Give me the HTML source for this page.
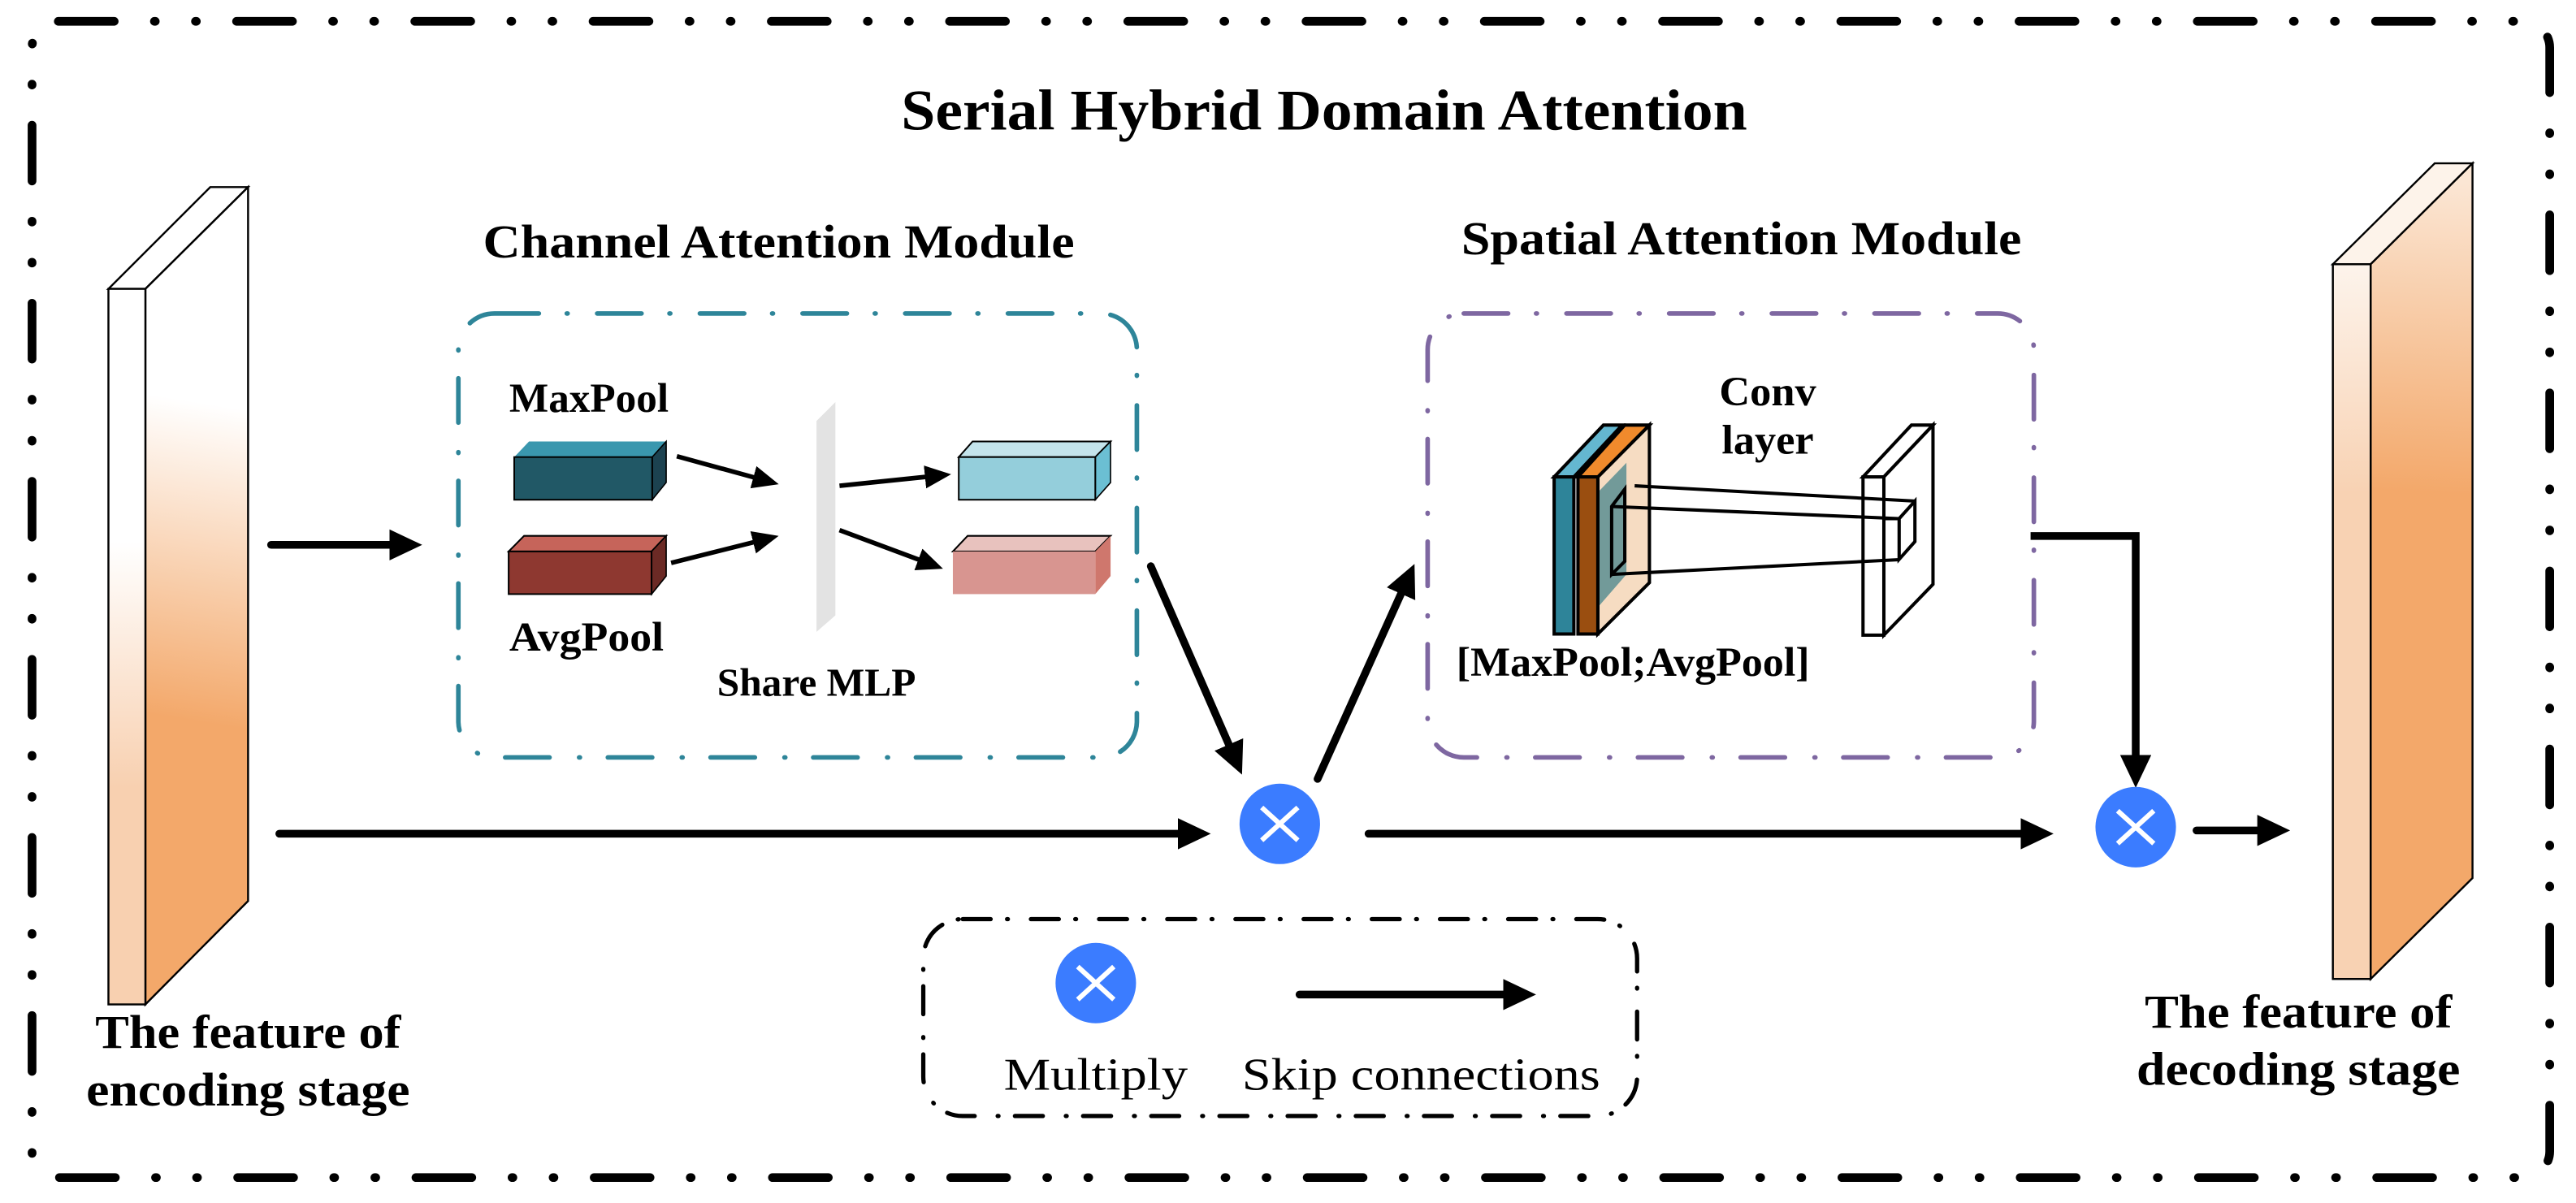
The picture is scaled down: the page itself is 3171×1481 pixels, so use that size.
<!DOCTYPE html>
<html><head><meta charset="utf-8"><style>
html,body{margin:0;padding:0;background:#fff;}
svg{display:block;}
text{font-family:"Liberation Serif",serif;}
</style></head><body>
<svg width="3171" height="1481" viewBox="0 0 1568 733" preserveAspectRatio="none" xmlns="http://www.w3.org/2000/svg">
<defs>
<marker id="ah" markerUnits="userSpaceOnUse" markerWidth="21" markerHeight="20" refX="10" refY="9.5" orient="auto"><path d="M0,0 L20,9.5 L0,19 z" fill="#000"/></marker>
<marker id="as" markerUnits="userSpaceOnUse" markerWidth="17" markerHeight="16" refX="8" refY="7" orient="auto"><path d="M0,0 L16,7 L0,14 z" fill="#000"/></marker>
<linearGradient id="lfront" gradientUnits="userSpaceOnUse" x1="0" y1="330" x2="0" y2="480"><stop offset="0" stop-color="#fff"/><stop offset="1" stop-color="#f8d0b0"/></linearGradient>
<linearGradient id="lside" gradientUnits="userSpaceOnUse" x1="151" y1="250" x2="120" y2="440"><stop offset="0" stop-color="#fff"/><stop offset="1" stop-color="#f3a86a"/></linearGradient>
<linearGradient id="rfront" gradientUnits="userSpaceOnUse" x1="0" y1="160" x2="0" y2="300"><stop offset="0" stop-color="#fdf4ec"/><stop offset="1" stop-color="#f8d2b3"/></linearGradient>
<linearGradient id="rside" gradientUnits="userSpaceOnUse" x1="1480" y1="110" x2="1470" y2="300"><stop offset="0" stop-color="#fbe6d4"/><stop offset="1" stop-color="#f3a86a"/></linearGradient>
</defs>

<rect x="19.5" y="13" width="1532.5" height="704.5" rx="16" ry="16" fill="none" stroke="#000" stroke-width="5.3" stroke-linecap="round" stroke-dasharray="34 24.5 0.5 24.5 0.5 24.5"/>

<text x="806" y="79" font-size="35" font-weight="bold" text-anchor="middle" textLength="515" lengthAdjust="spacingAndGlyphs">Serial  Hybrid Domain Attention</text>
<text x="474" y="157" font-size="29" font-weight="bold" text-anchor="middle" textLength="360" lengthAdjust="spacingAndGlyphs">Channel Attention Module</text>
<text x="1060" y="155" font-size="29" font-weight="bold" text-anchor="middle" textLength="341" lengthAdjust="spacingAndGlyphs">Spatial Attention Module</text>

<polygon points="66,176 88.5,176 151,114 128,114" fill="#fff" stroke="#000" stroke-width="1.2"/>
<polygon points="88.5,176 151,114 151,549 88.5,612" fill="url(#lside)" stroke="#000" stroke-width="1.2"/>
<rect x="66" y="176" width="22.5" height="436" fill="url(#lfront)" stroke="#000" stroke-width="1.2"/>
<text x="151" y="638.5" font-size="29" font-weight="bold" text-anchor="middle" textLength="186" lengthAdjust="spacingAndGlyphs">The feature of</text>
<text x="151" y="673.5" font-size="29" font-weight="bold" text-anchor="middle" textLength="197" lengthAdjust="spacingAndGlyphs">encoding stage</text>

<polygon points="1420,161 1443,161 1505,99.5 1482,99.5" fill="#fdf3ea" stroke="#000" stroke-width="1.2"/>
<polygon points="1443,161 1505,99.5 1505,535 1443,596.5" fill="url(#rside)" stroke="#000" stroke-width="1.2"/>
<rect x="1420" y="161" width="23" height="435.5" fill="url(#rfront)" stroke="#000" stroke-width="1.2"/>
<text x="1399" y="626" font-size="29" font-weight="bold" text-anchor="middle" textLength="187" lengthAdjust="spacingAndGlyphs">The feature of</text>
<text x="1399" y="661" font-size="29" font-weight="bold" text-anchor="middle" textLength="197" lengthAdjust="spacingAndGlyphs">decoding stage</text>

<rect x="279" y="191" width="413" height="270.5" rx="22" ry="22" fill="none" stroke="#2e8599" stroke-width="2.8" stroke-linecap="round" stroke-dasharray="27 17 0.5 18"/>
<text x="310" y="251" font-size="25" font-weight="bold" textLength="97" lengthAdjust="spacingAndGlyphs">MaxPool</text>
<text x="310" y="396.5" font-size="25" font-weight="bold" textLength="94" lengthAdjust="spacingAndGlyphs">AvgPool</text>
<text x="497" y="424" font-size="24" font-weight="bold" text-anchor="middle" textLength="121" lengthAdjust="spacingAndGlyphs">Share MLP</text>

<polygon points="313,278.5 397,278.5 405.5,269 322,269" fill="#3a97ae"/>
<polygon points="397,278.5 405.5,269 405.5,294 397,304.5" fill="#1c4250" stroke="#000" stroke-width="0.8"/>
<rect x="313" y="278.5" width="84" height="26" fill="#215866" stroke="#000" stroke-width="1"/>
<polygon points="309.6,336 396.6,336 405.5,326.5 319,326.5" fill="#c6645a" stroke="#000" stroke-width="1"/>
<polygon points="396.6,336 405.5,326.5 405.5,351 396.6,362" fill="#6b2a25" stroke="#000" stroke-width="0.8"/>
<rect x="309.6" y="336" width="87" height="26" fill="#8e3830" stroke="#000" stroke-width="1"/>
<polygon points="583.6,278.5 666.7,278.5 676,269 592,269" fill="#c4e4ec" stroke="#000" stroke-width="1"/>
<polygon points="666.7,278.5 676,269 676,294 666.7,304.5" fill="#6bbfd3" stroke="#000" stroke-width="0.8"/>
<rect x="583.6" y="278.5" width="83.1" height="26" fill="#94cedb" stroke="#000" stroke-width="1"/>
<polygon points="580,336 666.7,336 676,326.5 589,326.5" fill="#e8c2be" stroke="#000" stroke-width="1"/>
<polygon points="666.7,336 676,326.5 676,351 666.7,362" fill="#cf776d"/>
<rect x="580" y="336" width="86.7" height="26" fill="#d89590"/>
<polygon points="497,256.5 508.5,245 508.5,375 497,385" fill="#e3e3e3"/>
<line x1="412" y1="278" x2="466.3" y2="292.9" stroke="#000" stroke-width="2.8" marker-end="url(#as)"/>
<line x1="408.5" y1="343" x2="466.2" y2="328.5" stroke="#000" stroke-width="2.8" marker-end="url(#as)"/>
<line x1="511" y1="296" x2="571" y2="289.8" stroke="#000" stroke-width="2.8" marker-end="url(#as)"/>
<line x1="511" y1="323" x2="566.5" y2="343.7" stroke="#000" stroke-width="2.8" marker-end="url(#as)"/>

<rect x="869" y="191" width="369" height="270.5" rx="22" ry="22" fill="none" stroke="#7e67a1" stroke-width="2.8" stroke-linecap="round" stroke-dasharray="27 17 0.5 18"/>
<text x="1076" y="247" font-size="25" font-weight="bold" text-anchor="middle" textLength="59" lengthAdjust="spacingAndGlyphs">Conv</text>
<text x="1076" y="276.5" font-size="25" font-weight="bold" text-anchor="middle" textLength="56" lengthAdjust="spacingAndGlyphs">layer</text>
<text x="994" y="411.8" font-size="25" font-weight="bold" text-anchor="middle" textLength="215" lengthAdjust="spacingAndGlyphs">[MaxPool;AvgPool]</text>

<polygon points="972.6,290.6 1004,259 1004,355 972.6,386.3" fill="#f6dcc2" stroke="#000" stroke-width="2"/>
<polygon points="972.6,300 990,282 990,350 972.6,370" fill="#3a7d88" opacity="0.7"/>
<polygon points="960.5,290.6 972.6,290.6 1004,259 989,259" fill="#f08a2c" stroke="#000" stroke-width="2"/>
<rect x="960.5" y="290.6" width="12.1" height="95.7" fill="#9a4e10" stroke="#000" stroke-width="2"/>
<polygon points="946,290.6 958,290.6 987.4,259 976,259" fill="#64b7d0" stroke="#000" stroke-width="2"/>
<rect x="946" y="290.6" width="12" height="95.7" fill="#2e8499" stroke="#000" stroke-width="2"/>
<polygon points="1134,290.6 1146.7,290.6 1176.6,259 1163.5,259" fill="#fff" stroke="#000" stroke-width="2"/>
<polygon points="1146.7,290.6 1176.6,259 1176.6,356 1146.7,387" fill="#fff" stroke="#000" stroke-width="2"/>
<rect x="1134" y="290.6" width="12.7" height="96.4" fill="#fff" stroke="#000" stroke-width="2"/>
<g fill="none" stroke="#000" stroke-width="2">
<polygon points="981,308.6 989,298 989,342 981,350"/>
<line x1="995" y1="296" x2="1165.6" y2="305.3"/>
<line x1="981" y1="308.6" x2="1156" y2="316"/>
<line x1="981" y1="350" x2="1156" y2="341"/>
<polygon points="1156,316 1165.6,305.3 1165.6,330 1156,340.8"/>
<line x1="1146.7" y1="316" x2="1156" y2="316"/>
</g>

<g stroke="#000" stroke-width="4.7" fill="none" stroke-linecap="round">
<line x1="165" y1="332" x2="247" y2="332" marker-end="url(#ah)"/>
<line x1="170" y1="508" x2="727" y2="508" marker-end="url(#ah)"/>
<line x1="833" y1="508" x2="1240" y2="508" marker-end="url(#ah)"/>
<line x1="700.5" y1="345" x2="752" y2="462.8" marker-end="url(#ah)"/>
<line x1="802" y1="474.6" x2="856.9" y2="352.7" marker-end="url(#ah)"/>
<polyline points="1236,326.6 1300,326.6 1300,470" marker-end="url(#ah)" stroke-linecap="butt" stroke-linejoin="miter"/>
<line x1="1337" y1="506" x2="1384" y2="506" marker-end="url(#ah)"/>
</g>

<circle cx="779" cy="502" r="24.5" fill="#3b7cff"/>
<path d="M768,492 L790,512 M790,492 L768,512" stroke="#fff" stroke-width="3"/>
<circle cx="1300" cy="504" r="24.5" fill="#3b7cff"/>
<path d="M1289,494 L1311,514 M1311,494 L1289,514" stroke="#fff" stroke-width="3"/>

<rect x="562" y="560" width="434.5" height="120" rx="24" ry="24" fill="none" stroke="#000" stroke-width="2.6" stroke-linecap="round" stroke-dasharray="17 10 0.5 14"/>
<circle cx="667" cy="599" r="24.5" fill="#3b7cff"/>
<path d="M656,589 L678,609 M678,589 L656,609" stroke="#fff" stroke-width="3"/>
<line x1="791" y1="606" x2="925" y2="606" stroke="#000" stroke-width="4.7" stroke-linecap="round" marker-end="url(#ah)"/>
<text x="611" y="664" font-size="28" textLength="112" lengthAdjust="spacingAndGlyphs">Multiply</text>
<text x="756" y="664" font-size="28" textLength="218" lengthAdjust="spacingAndGlyphs">Skip connections</text>
</svg>
</body></html>
